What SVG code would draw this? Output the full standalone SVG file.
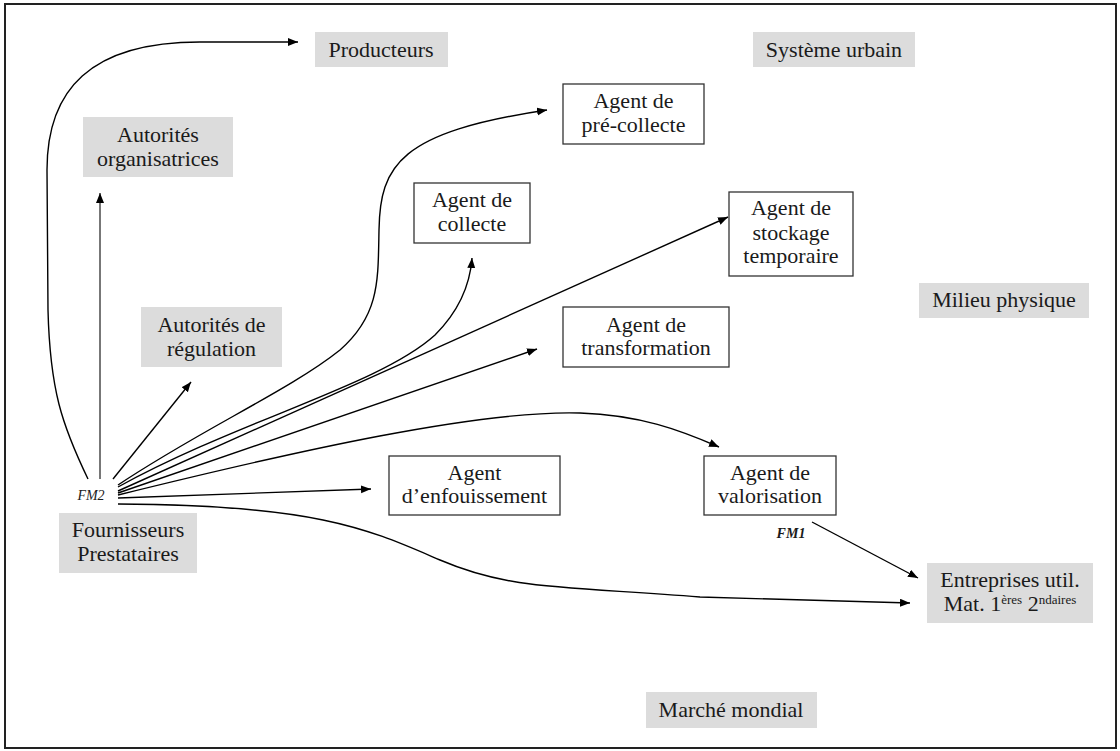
<svg xmlns="http://www.w3.org/2000/svg" width="1120" height="751" viewBox="0 0 1120 751">
<style>
text{font-family:"Liberation Serif","Times New Roman",serif;font-size:22px;fill:#1a1a1a;text-anchor:middle}
.g{fill:#dcdcdc;stroke:none}
.w{fill:#fff;stroke:#333;stroke-width:1.3}
.c{fill:none;stroke:#000;stroke-width:1.4;marker-end:url(#ah)}
.fm{font-size:14px;font-style:italic}
.sup{font-size:13px}
</style>
<defs>
<marker id="ah" markerUnits="userSpaceOnUse" markerWidth="11" markerHeight="9" refX="10" refY="4" orient="auto">
<path d="M0,0 L10,4 L0,8 z" fill="#000"/>
</marker>
</defs>
<rect x="5" y="4" width="1111" height="744" fill="#fff" stroke="#222" stroke-width="2"/>

<g id="producteurs"><rect class="g" x="315" y="32" width="133" height="35"/><text x="381" y="57">Producteurs</text></g>
<g id="systeme-urbain"><rect class="g" x="753" y="32" width="162" height="35"/><text x="834" y="57">Système urbain</text></g>
<g id="autorites-organisatrices"><rect class="g" x="83" y="117" width="150" height="60"/><text x="158" y="142">Autorités</text><text x="158" y="166">organisatrices</text></g>
<g id="autorites-regulation"><rect class="g" x="141" y="307" width="141" height="60"/><text x="211.5" y="332">Autorités de</text><text x="211.5" y="356">régulation</text></g>
<g id="milieu-physique"><rect class="g" x="919" y="283" width="170" height="35"/><text x="1004" y="307">Milieu physique</text></g>
<g id="fournisseurs"><rect class="g" x="59" y="513" width="138" height="60"/><text x="128" y="537">Fournisseurs</text><text x="128" y="561">Prestataires</text><text class="fm" x="91" y="500">FM2</text></g>
<g id="entreprises"><rect class="g" x="927" y="563" width="166" height="60"/><text x="1010" y="587">Entreprises util.</text><text x="1010" y="611">Mat. 1<tspan class="sup" dy="-7">ères</tspan><tspan dy="7"> 2</tspan><tspan class="sup" dy="-7">ndaires</tspan></text></g>
<g id="marche-mondial"><rect class="g" x="646" y="692" width="171" height="36"/><text x="731" y="717">Marché mondial</text></g>

<g id="agent-precollecte"><rect class="w" x="563" y="84" width="141" height="60"/><text x="633.5" y="108">Agent de</text><text x="633.5" y="132">pré-collecte</text></g>
<g id="agent-collecte"><rect class="w" x="414" y="183" width="116" height="60"/><text x="472" y="207">Agent de</text><text x="472" y="231">collecte</text></g>
<g id="agent-stockage"><rect class="w" x="729" y="192" width="124" height="84"/><text x="791" y="215">Agent de</text><text x="791" y="240">stockage</text><text x="791" y="263">temporaire</text></g>
<g id="agent-transformation"><rect class="w" x="563" y="307" width="166" height="60"/><text x="646" y="332">Agent de</text><text x="646" y="355">transformation</text></g>
<g id="agent-enfouissement"><rect class="w" x="389" y="456" width="171" height="59"/><text x="474.5" y="480">Agent</text><text x="474.5" y="503">d’enfouissement</text></g>
<g id="agent-valorisation"><rect class="w" x="704" y="456" width="132" height="59"/><text x="770" y="480">Agent de</text><text x="770" y="503">valorisation</text><text class="fm" x="791" y="538" font-weight="bold">FM1</text></g>

<g id="connectors">
<path class="c" d="M88 479 C62 425 50 390 48 310 L47 170 C47 90 90 42 200 42 L298 42"/>
<path class="c" d="M100 479 L100 193" style="stroke:#555;stroke-width:1.6"/>
<path class="c" d="M113 479 L191 382"/>
<path class="c" d="M118 485 C200 430 290 390 340 350 C380 315 378 280 379 230 C380 165 400 132 547 110"/>
<path class="c" d="M118 487 C240 420 380 385 435 335 C460 310 470 285 472 258"/>
<path class="c" d="M118 491 L728 217"/>
<path class="c" d="M118 493 L537 349"/>
<path class="c" d="M118 495 C300 450 480 410 580 413 C640 415 680 430 719 447"/>
<path class="c" d="M118 498 L371 489"/>
<path class="c" d="M118 504 C320 505 370 530 440 560 S560 586 700 597 L910 603"/>
<path class="c" d="M812 522 L918 578"/>
</g>
</svg>
